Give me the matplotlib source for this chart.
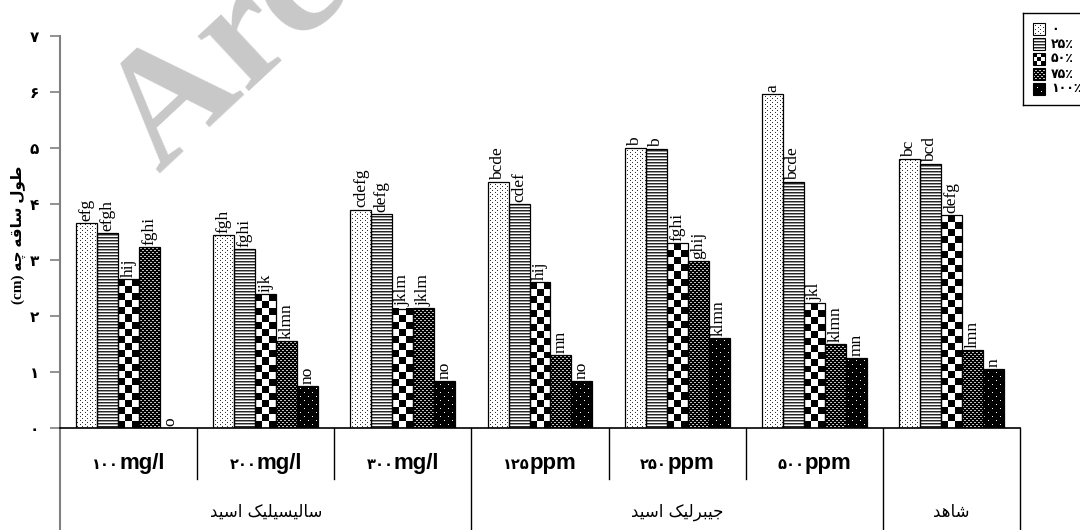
import numpy as np
import matplotlib
matplotlib.use('Agg')
import matplotlib.pyplot as plt
from matplotlib.path import Path
from matplotlib.offsetbox import TextArea, HPacker, AnnotationBbox

# hypocotyl length per treatment, one list per level
groups = ['۱۰۰mg/l', '۲۰۰mg/l', '۳۰۰mg/l', '۱۲۵ppm', '۲۵۰ppm', '۵۰۰ppm', '']
levels = ['۰', '۲۵٪', '۵۰٪', '۷۵٪', '۱۰۰٪']
v0 = [3.66, 3.45, 3.90, 4.39, 5.00, 5.96, 4.80]
v25 = [3.48, 3.20, 3.82, 4.00, 4.98, 4.39, 4.71]
v50 = [2.66, 2.39, 2.13, 2.60, 3.30, 2.23, 3.80]
v75 = [3.23, 1.55, 2.14, 1.30, 2.98, 1.50, 1.39]
v100 = [0.0, 0.75, 0.84, 0.84, 1.61, 1.25, 1.05]
series = [v0, v25, v50, v75, v100]

letters = [
    ['efg', 'fgh', 'cdefg', 'bcde', 'b', 'a', 'bc'],
    ['efgh', 'fghi', 'defg', 'cdef', 'b', 'bcde', 'bcd'],
    ['hij', 'ijk', 'jklm', 'hij', 'fghi', 'jkl', 'defg'],
    ['fghi', 'klmn', 'jklm', 'mn', 'ghij', 'klmn', 'lmn'],
    ['o', 'no', 'no', 'no', 'klmn', 'mn', 'n'],
]
top_groups = [('سالیسیلیک اسید', 0, 3), ('جیبرلیک اسید', 3, 6), ('شاهد', 6, 7)]
yticks = ['۰', '۱', '۲', '۳', '۴', '۵', '۶', '۷']
PDIGITS = '۰۱۲۳۴۵۶۷۸۹'

# persian letters -> (isolated, final, initial, medial)
FORMS = {
    'ا': ('\uFE8D', '\uFE8E', None, None),
    'ب': ('\uFE8F', '\uFE90', '\uFE91', '\uFE92'),
    'ج': ('\uFE9D', '\uFE9E', '\uFE9F', '\uFEA0'),
    'چ': ('\uFB7A', '\uFB7B', '\uFB7C', '\uFB7D'),
    'د': ('\uFEA9', '\uFEAA', None, None),
    'ر': ('\uFEAD', '\uFEAE', None, None),
    'س': ('\uFEB1', '\uFEB2', '\uFEB3', '\uFEB4'),
    'ش': ('\uFEB5', '\uFEB6', '\uFEB7', '\uFEB8'),
    'ط': ('\uFEC1', '\uFEC2', '\uFEC3', '\uFEC4'),
    'ق': ('\uFED5', '\uFED6', '\uFED7', '\uFED8'),
    'ک': ('\uFB8E', '\uFB8F', '\uFB90', '\uFB91'),
    'ل': ('\uFEDD', '\uFEDE', '\uFEDF', '\uFEE0'),
    'ه': ('\uFEE9', '\uFEEA', '\uFEEB', '\uFEEC'),
    'و': ('\uFEED', '\uFEEE', None, None),
    'ی': ('\uFBFC', '\uFBFD', '\uFBFE', '\uFBFF'),
}


def fa(text):
    out = []
    for i, ch in enumerate(text):
        if ch not in FORMS:
            out.append(ch)
            continue
        prev = text[i - 1] if i > 0 else ''
        nxt = text[i + 1] if i + 1 < len(text) else ''
        jp = prev in FORMS and FORMS[prev][2] is not None
        jn = nxt in FORMS and FORMS[ch][2] is not None
        iso, fin, ini, med = FORMS[ch]
        if jp and jn:
            out.append(med)
        elif jp:
            out.append(fin)
        elif jn:
            out.append(ini)
        else:
            out.append(iso)
    return ''.join(reversed(out))


fig = plt.figure(figsize=(10.8, 5.3), dpi=100)
ax = fig.add_axes([60 / 1080, 102 / 530, 960 / 1080, 392 / 530])
ax.set_facecolor('none')

# fill textures in axes pixels
W, H = 960, 392
r = np.arange(H)[:, None]
c = np.arange(W)[None, :]
t0 = np.ones((H, W))
t0[((r % 4 == 0) & (c % 5 == 0)) | ((r % 4 == 2) & (c % 5 == 2))] = 0.2
t1 = np.ones((H, W)) * np.where(r % 3 == 0, 0.15, np.where(r % 3 == 1, 0.6, 1.0))
t3 = np.zeros((H, W))
t3[((r % 4 == 0) & (c % 4 <= 1)) | ((r % 4 == 2) & ((c + 2) % 4 <= 1))] = 0.75
t4 = np.zeros((H, W))
t4[((r % 8 == 0) & (c % 8 == 0)) | ((r % 8 == 4) & (c % 8 == 4))] = 1.0
textures = [t0, t1, None, t3, t4]

width = 0.153
for j, vals in enumerate(series):
    xs = np.arange(7) + 0.5 + (j - 2) * width
    bars = ax.bar(xs, vals, width, facecolor='none', edgecolor='black', lw=0.9, zorder=3)
    if textures[j] is None:
        # checkerboard, three squares across each bar
        for x, v in zip(xs, vals):
            if v <= 0:
                continue
            nrows = max(1, int(round(v * 56 / 7)))
            chk = np.add.outer(np.arange(nrows), np.arange(3)) % 2
            ax.imshow(chk, extent=(x - width / 2, x + width / 2, 0, v), origin='lower',
                      cmap='gray', vmin=0, vmax=1, interpolation='nearest', aspect='auto', zorder=2)
    else:
        im = ax.imshow(textures[j], extent=(0, 7, 0, 7), origin='upper', cmap='gray',
                       vmin=0, vmax=1, interpolation='nearest', aspect='auto', zorder=2)
        path = Path.make_compound_path(*[b.get_path().transformed(b.get_patch_transform()) for b in bars])
        im.set_clip_path(path, ax.transData)
    for x, v, lab in zip(xs, vals, letters[j]):
        ax.text(x, v + 0.04, lab, rotation=90, ha='center', va='bottom',
                fontsize=12.5, family='Liberation Serif', zorder=4)

ax.set_xlim(0, 7)
ax.set_ylim(0, 7)
ax.set_aspect('auto')

for s in ['top', 'right']:
    ax.spines[s].set_visible(False)
ax.spines['left'].set_color('#808080')
ax.spines['left'].set_linewidth(1.5)
ax.spines['bottom'].set_linewidth(1.2)

ax.set_xticks([])
ax.set_yticks(range(8))
ax.set_yticklabels(yticks, fontsize=11, fontweight='bold', family='DejaVu Sans')
ax.tick_params(axis='y', length=7, width=1.2, color='#808080', pad=8)

# category table below the axis
xt = ax.get_xaxis_transform()
ax.plot([0, 0], [0, -0.27], color='#808080', lw=1.5, clip_on=False, transform=xt)
for b in [3, 6, 7]:
    ax.plot([b, b], [0, -0.27], color='black', lw=1, clip_on=False, transform=xt)
for b in [1, 2, 4, 5]:
    ax.plot([b, b], [0, -0.13], color='black', lw=1, clip_on=False, transform=xt)
for i, g in enumerate(groups):
    if not g:
        continue
    num = ''.join(ch for ch in g if ch in PDIGITS)
    unit = ''.join(ch for ch in g if ch not in PDIGITS)
    box = HPacker(children=[
        TextArea(num, textprops=dict(fontsize=10.5, fontweight='bold', family='DejaVu Sans')),
        TextArea(unit, textprops=dict(fontsize=16, fontweight='bold', family='Liberation Sans')),
    ], align='baseline', pad=0, sep=0)
    ab = AnnotationBbox(box, (i + 0.5, -0.09), xycoords=xt, frameon=False,
                        box_alignment=(0.5, 0.5), annotation_clip=False)
    ax.add_artist(ab)
for name, a, b in top_groups:
    ax.text((a + b) / 2, -0.214, fa(name), transform=xt, ha='center', va='center',
            fontsize=12, family='DejaVu Sans')

fig.text(18 / 1080, (530 - 235) / 530, '(cm) ' + fa('طول ساقه چه'), rotation=90,
         ha='center', va='center', fontsize=11, fontweight='bold',
         family=['Liberation Serif', 'DejaVu Sans'])

# legend box, drawn by hand in pixel units
lax = fig.add_axes([1023 / 1080, (530 - 105) / 530, 80 / 1080, 92 / 530])
lax.set_xticks([])
lax.set_yticks([])
for s in lax.spines.values():
    s.set_linewidth(1)
for i, lv in enumerate(levels):
    yc = 16 + 15 * i
    if textures[i] is None:
        sw = np.array([[0, 1, 0], [1, 0, 1], [0, 1, 0]])
    else:
        sw = textures[i][:12, :12]
    lax.imshow(sw, extent=(10, 22, yc + 6, yc - 6), cmap='gray', vmin=0, vmax=1,
               interpolation='nearest', aspect='auto')
    lax.add_patch(plt.Rectangle((10, yc - 6), 12, 12, fill=False, edgecolor='black', lw=0.8))
    lax.text(28, yc, lv, va='center', ha='left', fontsize=9, fontweight='bold', family='DejaVu Sans')
lax.set_xlim(0, 80)
lax.set_ylim(92, 0)

fig.text(160 / 1080, (530 - 175) / 530, 'Archive of SID', rotation=43, rotation_mode='anchor',
         ha='left', va='baseline', fontsize=118, fontweight='bold', family='Liberation Serif',
         color='#c8c8c8', zorder=0)

fig.savefig('out.png', dpi=100)
